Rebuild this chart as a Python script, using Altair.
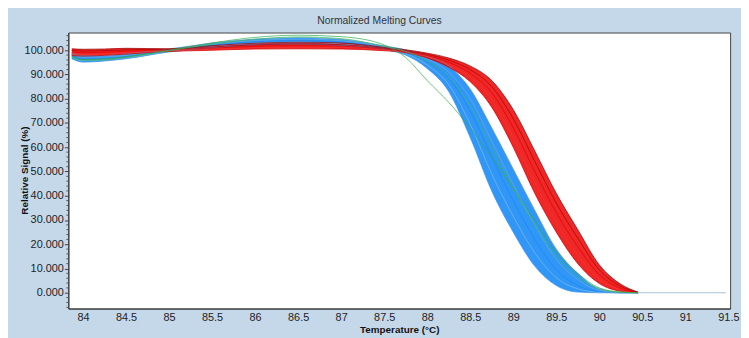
import altair as alt
import pandas as pd

# Temperature grid (°C)
temps = [83.87, 84.0, 84.25, 84.5, 85.0, 85.5, 86.0, 86.5, 87.0, 87.5, 87.75,
         88.0, 88.25, 88.5, 88.75, 89.0, 89.25, 89.5, 89.75, 90.0, 90.25, 90.45]

# Red group curves (Relative Signal %)
red_lo = [97.8, 97.6, 97.9, 98.4, 99.5, 100.0, 100.5, 100.6, 100.5, 99.8, 99.0,
          96.8, 93.0, 87.0, 76.5, 60.0, 41.0, 25.0, 12.0, 3.8, 0.6, 0.0]
red_q1 = [98.5, 98.3, 98.5, 99.0, 99.8, 100.4, 101.0, 101.2, 101.1, 100.1, 99.3,
          97.3, 94.0, 88.8, 79.5, 64.0, 45.5, 29.0, 15.5, 5.6, 1.2, 0.0]
red_mid = [99.2, 99.0, 99.2, 99.6, 100.1, 100.9, 101.6, 101.9, 101.7, 100.5, 99.5,
           97.8, 95.0, 90.5, 82.5, 68.0, 50.0, 33.0, 19.0, 7.5, 1.8, 0.1]
red_q3 = [99.9, 99.7, 99.8, 100.2, 100.4, 101.4, 102.2, 102.6, 102.3, 100.8, 99.8,
          98.3, 95.9, 92.0, 85.0, 71.8, 54.2, 37.0, 22.5, 9.5, 2.6, 0.2]
red_hi = [100.6, 100.4, 100.5, 100.8, 100.6, 101.9, 102.9, 103.3, 103.0, 101.2, 100.2,
          98.8, 96.8, 93.5, 87.5, 75.5, 58.5, 41.0, 26.0, 11.5, 3.5, 0.3]

# Blue group curves
blue_lo = [96.5, 95.1, 95.6, 96.5, 99.3, 101.0, 102.3, 102.6, 102.0, 100.3, 98.0,
           92.5, 83.0, 64.0, 42.0, 25.0, 11.0, 3.0, 0.3, 0.0, 0.0, 0.0]
blue_q1 = [97.1, 95.7, 96.1, 96.9, 99.6, 101.5, 102.9, 103.3, 102.6, 100.6, 98.6,
           93.9, 85.8, 69.5, 49.0, 31.5, 16.5, 6.2, 1.6, 0.2, 0.0, 0.0]
blue_mid = [97.8, 96.4, 96.6, 97.4, 99.9, 102.0, 103.5, 104.0, 103.3, 101.0, 99.2,
            95.3, 88.5, 75.0, 56.0, 38.0, 22.0, 9.5, 3.0, 0.5, 0.0, 0.0]
blue_q3 = [98.4, 97.1, 97.2, 97.9, 100.2, 102.5, 104.0, 104.6, 103.9, 101.4, 99.7,
           96.4, 91.0, 80.0, 62.5, 44.5, 28.0, 13.8, 5.5, 1.0, 0.0, 0.0]
blue_hi = [99.0, 97.8, 97.8, 98.5, 100.5, 103.0, 104.6, 105.2, 104.5, 101.8, 100.2,
           97.5, 93.5, 84.0, 68.0, 51.0, 34.0, 18.0, 8.0, 1.5, 0.1, 0.0]

# Green curves
green_1 = [97.5, 96.2, 96.4, 97.3, 100.0, 103.0, 105.3, 106.2, 105.6, 102.2, 97.0,
           87.5, 78.5, 68.0, 56.0, 43.0, 30.0, 16.5, 8.0, 2.0, 0.3, 0.0]
green_2 = [97.0, 95.8, 96.0, 97.0, 99.8, 102.5, 104.5, 105.5, 104.8, 101.6, 99.5,
           95.5, 89.0, 77.0, 60.0, 43.0, 28.0, 15.0, 6.5, 1.8, 0.2, 0.0]

# Flat tail after melting
tail_temps = [90.45, 91.47]
tail_vals = [0.0, 0.0]

x_ticks = [84, 84.5, 85, 85.5, 86, 86.5, 87, 87.5, 88, 88.5, 89, 89.5, 90, 90.5, 91, 91.5]
y_ticks = [0, 10, 20, 30, 40, 50, 60, 70, 80, 90, 100]
y_minor_ticks = [-6, -4, -2, 2, 4, 6, 8, 12, 14, 16, 18, 22, 24, 26, 28, 32, 34, 36, 38,
                 42, 44, 46, 48, 52, 54, 56, 58, 62, 64, 66, 68, 72, 74, 76, 78, 82, 84,
                 86, 88, 92, 94, 96, 98, 102, 104, 106]

bands = pd.concat([
    pd.DataFrame({"temp": temps, "lo": blue_lo, "hi": blue_hi, "group": "blue"}),
    pd.DataFrame({"temp": temps, "lo": red_lo, "hi": red_hi, "group": "red"}),
])

curve_sets = [
    ("blue_lo", blue_lo, temps), ("blue_q1", blue_q1, temps), ("blue_mid", blue_mid, temps),
    ("blue_q3", blue_q3, temps), ("blue_hi", blue_hi, temps),
    ("red_lo", red_lo, temps), ("red_q1", red_q1, temps), ("red_mid", red_mid, temps),
    ("red_q3", red_q3, temps), ("red_hi", red_hi, temps),
    ("green_2", green_2, temps), ("green_1", green_1, temps),
    ("tail", tail_vals, tail_temps),
]
lines = pd.concat([pd.DataFrame({"temp": t, "value": v, "curve": n, "order": i})
                   for i, (n, v, t) in enumerate(curve_sets)])
minor = pd.DataFrame({"tick": y_minor_ticks})

curve_names = [c[0] for c in curve_sets]
curve_colors = ["#3a94e6", "#7ab6e0", "#1a86f0", "#66aadb", "#5e9cc8",
                "#d40000", "#ff3030", "#e60000", "#b00000", "#9a0000",
                "#3cb868", "#2eaa4e",
                "#7fa8c6"]
curve_widths = [0.8, 0.7, 0.8, 0.7, 0.9,
                0.8, 0.7, 0.8, 0.8, 0.9,
                1.0, 1.1,
                1.8]

FONT = "Liberation Sans, Arial, sans-serif"

xscale = alt.Scale(domain=[83.83, 91.52], nice=False, zero=False)
yscale = alt.Scale(domain=[-6.5, 107.3], nice=False, zero=False)

xaxis = alt.Axis(values=x_ticks, format=".1~f", title="Temperature (°C)",
                 ticks=False, labelPadding=3, labelFont=FONT, labelFontSize=11,
                 labelColor="#222", domainColor="#333", grid=False,
                 titleFont=FONT, titleFontSize=10, titleFontWeight="bold",
                 titleColor="#111", titleBaseline="middle", titleY=21)
yaxis = alt.Axis(values=y_ticks, format=".3f", title="Relative Signal (%)",
                 labelOverlap=False, tickSize=4, tickColor="#444", labelPadding=1,
                 labelFont=FONT, labelFontSize=11, labelColor="#222", domainColor="#333",
                 grid=False, titleFont=FONT, titleFontSize=10, titleFontWeight="bold",
                 titleColor="#111", titleAngle=-90, titleAlign="center",
                 titleBaseline="middle", titleX=-44, titleY=139)

band_layer = alt.Chart(bands).mark_area(interpolate="monotone", opacity=0.9).encode(
    x=alt.X("temp:Q", scale=xscale, axis=xaxis),
    y=alt.Y("lo:Q", scale=yscale, axis=yaxis),
    y2="hi:Q",
    color=alt.Color("group:N", scale=alt.Scale(domain=["blue", "red"],
                                               range=["#1a8cf8", "#ec1010"]), legend=None),
    detail="group:N",
)

line_layer = alt.Chart(lines).mark_line(interpolate="monotone").encode(
    x=alt.X("temp:Q", scale=xscale, axis=xaxis),
    y=alt.Y("value:Q", scale=yscale, axis=yaxis),
    color=alt.Color("curve:N", scale=alt.Scale(domain=curve_names, range=curve_colors),
                    legend=None),
    strokeWidth=alt.StrokeWidth("curve:N", scale=alt.Scale(domain=curve_names,
                                                           range=curve_widths),
                                legend=None),
    detail="curve:N",
    order="order:Q",
)

minor_layer = alt.Chart(minor).mark_rule(color="#555", strokeWidth=1).encode(
    y=alt.Y("tick:Q", scale=yscale, axis=yaxis),
    x=alt.value(-2),
    x2=alt.value(0),
)

chart = alt.layer(band_layer, line_layer, minor_layer).resolve_scale(
    color="independent").properties(
    width=669, height=279,
    padding={"left": 61, "top": 23, "right": 11, "bottom": 28},
    autosize=alt.AutoSizeParams(type="none"),
    background="#c5d8ea",
    title=alt.TitleParams("Normalized Melting Curves", font=FONT, fontSize=10.5,
                          fontWeight="normal", color="#333", anchor="middle",
                          frame="bounds", offset=6),
).configure_view(fill="white", stroke="#444", strokeWidth=1)

chart.save("out.html", embed_options={"renderer": "svg", "actions": False})
